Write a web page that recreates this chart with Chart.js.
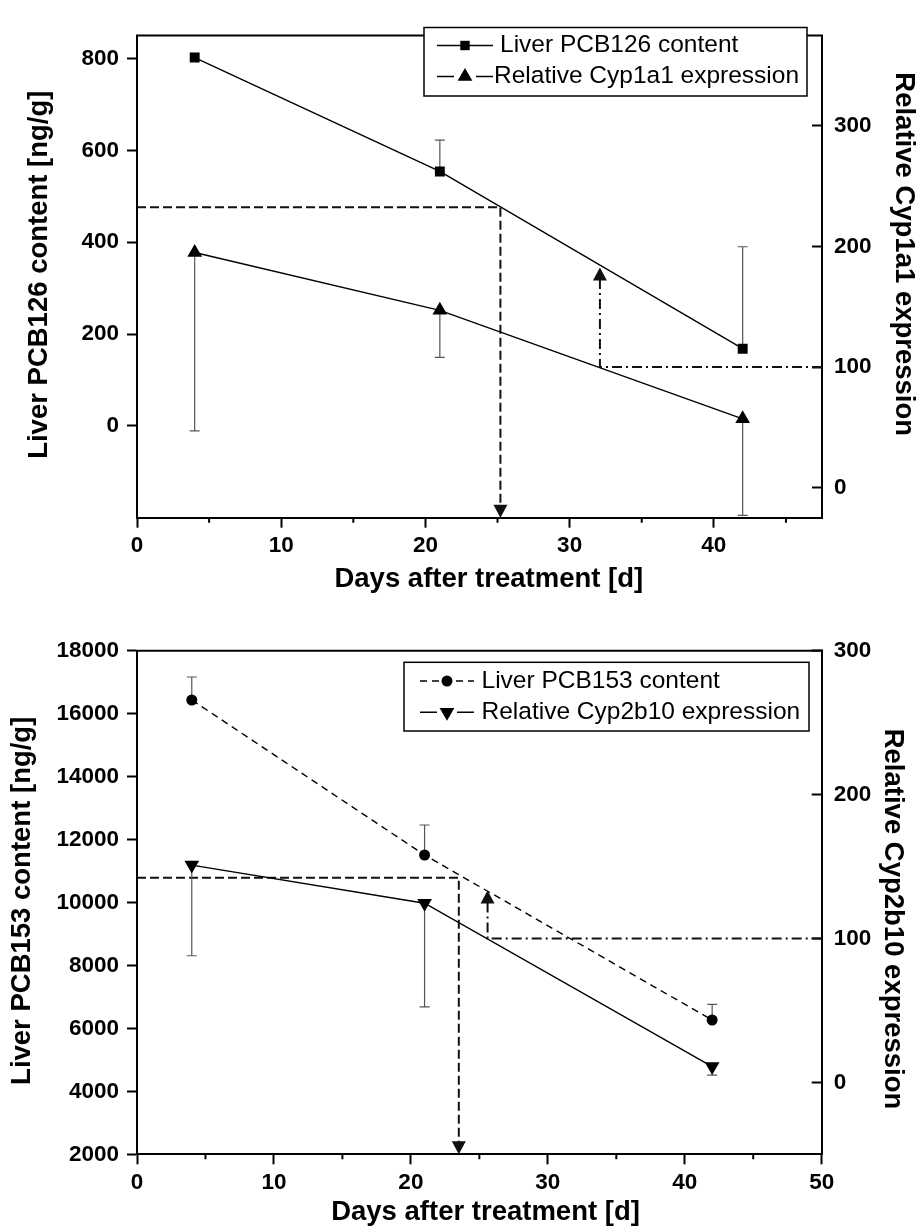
<!DOCTYPE html>
<html>
<head>
<meta charset="utf-8">
<script src="https://cdn.jsdelivr.net/npm/chart.js@4.4.1/dist/chart.umd.min.js"></script>
<style>
  html, body { margin: 0; padding: 0; background: #fff; }
  #wrap { position: relative; width: 922px; height: 1227px; }
  #topPanel { position: absolute; left: 0; top: 0; }
  #bottomPanel { position: absolute; left: 0; top: 610px; }
</style>
</head>
<body>
<div id="wrap">
  <canvas id="topPanel" width="922" height="610"></canvas>
  <canvas id="bottomPanel" width="922" height="617"></canvas>
</div>
<script>
// ---- sampling days ----
const days = [4, 21, 42];

// ---- upper panel: PCB126 content and Cyp1a1 expression ----
const pcb126Content = [802, 554, 168];       // ng/g
const pcb126Sd = [0, 68, 222];               // shown upward
const cyp1a1Expression = [195, 147, 57];     // relative, %
const cyp1a1Sd = [148, 39, 80];              // shown downward
const pcb126Ticks = [0, 200, 400, 600, 800];
const cyp1a1Ticks = [0, 100, 200, 300];
const dayTicksUpper = [0, 10, 20, 30, 40];

// half-content reading (day, ng/g) and 100 % expression crossing (day, %, ng/g at arrow tip)
const pcb126Half = [25.2, 476];
const cyp1a1Cross = [32.1, 100, 345];

// ---- lower panel: PCB153 content and Cyp2b10 expression ----
const pcb153Content = [16434, 11509, 6267];  // ng/g
const pcb153Sd = [730, 953, 499];            // shown upward
const cyp2b10Expression = [151, 124.5, 11];  // relative, %
const cyp2b10Sd = [63, 72, 6];               // shown downward
const pcb153Ticks = [2000, 4000, 6000, 8000, 10000, 12000, 14000, 16000, 18000];
const cyp2b10Ticks = [0, 100, 200, 300];
const dayTicksLower = [0, 10, 20, 30, 40, 50];

const pcb153Half = [23.5, 10790];
const cyp2b10Cross = [25.6, 100, 10380];

const minorDayTicks = [5, 15, 25, 35, 45];

// ---- axis titles ----
const dayTitle = 'Days after treatment [d]';
const upperTitles = ['Liver PCB126 content [ng/g]', 'Relative Cyp1a1 expression'];
const lowerTitles = ['Liver PCB153 content [ng/g]', 'Relative Cyp2b10 expression'];

// ---- styling ----
const FONT = '"Liberation Sans", Arial, Helvetica, sans-serif';
const tickFont = { family: FONT, size: 22.5, weight: 'bold' };
const TITLE_FONT = 'bold 27.5px ' + FONT;
const INK = '#000';

function pairs(xs, ys) { return xs.map((x, i) => ({ x: x, y: ys[i] })); }
function fixedTicks(list) { return scale => { scale.ticks = list.map(v => ({ value: v })); }; }
function asText(v) { return String(v); }

function arrowHead(ctx, x, y, dir) {
  // (x, y) is the tip; dir = 1 points down, -1 points up
  const w = 14, h = 13;
  ctx.beginPath();
  ctx.moveTo(x, y);
  ctx.lineTo(x - w / 2, y - dir * h);
  ctx.lineTo(x + w / 2, y - dir * h);
  ctx.closePath();
  ctx.fill();
}

function resolve(scale, v) {
  if (v === 'min') return scale.getPixelForValue(scale.min);
  if (v === 'max') return scale.getPixelForValue(scale.max);
  return scale.getPixelForValue(v);
}

// frame, minor ticks, guide lines, error bars, axis titles and the legend box
const panelDecor = {
  id: 'panelDecor',
  beforeDatasetsDraw(chart, args, opts) {
    const ctx = chart.ctx, area = chart.chartArea, xs = chart.scales.x;
    ctx.save();
    ctx.strokeStyle = INK;
    ctx.lineWidth = 2;
    ctx.beginPath();
    ctx.moveTo(area.left - 1, area.top);
    ctx.lineTo(area.right + 1, area.top);
    ctx.stroke();

    ctx.beginPath();
    opts.minorTicks.forEach(v => {
      const px = xs.getPixelForValue(v);
      ctx.moveTo(px, area.bottom);
      ctx.lineTo(px, area.bottom + 5);
    });
    ctx.stroke();

    // guide lines with arrow heads
    opts.guides.forEach(g => {
      const pts = g.points.map(p => [resolve(xs, p[0]), resolve(chart.scales[p[2]], p[1])]);
      const last = pts[pts.length - 1], prev = pts[pts.length - 2];
      const dir = last[1] > prev[1] ? 1 : -1;
      ctx.setLineDash(g.dash);
      ctx.lineWidth = 2;
      ctx.strokeStyle = '#111';
      ctx.beginPath();
      pts.forEach((p, i) => {
        const y = (i === pts.length - 1) ? p[1] - dir * 12 : p[1];
        if (i === 0) ctx.moveTo(p[0], y); else ctx.lineTo(p[0], y);
      });
      ctx.stroke();
      ctx.setLineDash([]);
      ctx.fillStyle = '#111';
      arrowHead(ctx, last[0], last[1], dir);
    });

    // one-sided error bars
    chart.data.datasets.forEach((ds, i) => {
      const meta = chart.getDatasetMeta(i);
      const ys = chart.scales[ds.yAxisID];
      ctx.strokeStyle = '#555';
      ctx.lineWidth = 1.2;
      ds.data.forEach((p, j) => {
        const sd = ds.sd[j];
        if (!sd) return;
        const x = meta.data[j].x;
        const y0 = ys.getPixelForValue(p.y);
        const y1 = ys.getPixelForValue(p.y + ds.sdDir * sd);
        ctx.beginPath();
        ctx.moveTo(x, y0); ctx.lineTo(x, y1);
        ctx.moveTo(x - 5, y1); ctx.lineTo(x + 5, y1);
        ctx.stroke();
      });
    });
    ctx.restore();
  },
  afterDraw(chart, args, opts) {
    const ctx = chart.ctx;
    ctx.save();
    // axis titles
    ctx.font = TITLE_FONT;
    ctx.fillStyle = INK;
    ctx.textAlign = 'center';
    ctx.textBaseline = 'middle';
    opts.titles.forEach(t => {
      ctx.save();
      ctx.translate(t.x, t.y);
      ctx.rotate(t.rot * Math.PI / 180);
      ctx.fillText(t.text, 0, 0);
      ctx.restore();
    });

    // legend
    const L = opts.legend;
    ctx.textAlign = 'left';
    ctx.fillStyle = '#fff';
    ctx.fillRect(L.left, L.top, L.width, L.height);
    ctx.strokeStyle = INK;
    ctx.lineWidth = 1.5;
    ctx.strokeRect(L.left, L.top, L.width, L.height);
    ctx.font = L.fontSize + 'px ' + FONT;
    chart.data.datasets.forEach((ds, i) => {
      const row = L.rows[i];
      const mid = (L.sampleX0 + L.sampleX1) / 2;
      ctx.strokeStyle = INK;
      ctx.lineWidth = ds.borderWidth;
      ctx.setLineDash(ds.borderDash || []);
      ctx.beginPath();
      if (row.gap) {
        ctx.moveTo(L.sampleX0, row.y); ctx.lineTo(mid - row.gap, row.y);
        ctx.moveTo(mid + row.gap, row.y); ctx.lineTo(L.sampleX1, row.y);
      } else {
        ctx.moveTo(L.sampleX0, row.y); ctx.lineTo(L.sampleX1, row.y);
      }
      ctx.stroke();
      ctx.setLineDash([]);
      ctx.fillStyle = INK;
      Chart.helpers.drawPoint(ctx, {
        pointStyle: ds.pointStyle, rotation: ds.pointRotation || 0,
        radius: ds.pointRadius * row.markerScale, borderWidth: 0
      }, mid, row.y);
      ctx.fillText(ds.label, row.textX, row.y);
    });
    ctx.restore();
  }
};

function axisY(position, min, max, list, width, labelPad, tickLen) {
  return {
    type: 'linear', position: position, min: min, max: max,
    afterBuildTicks: fixedTicks(list),
    afterFit: s => { s.width = width; },
    grid: { display: true, drawOnChartArea: false, drawTicks: true, tickLength: tickLen, tickWidth: 2, tickColor: INK },
    border: { display: true, color: INK, width: 2 },
    ticks: { font: tickFont, color: INK, padding: labelPad, callback: asText },
    title: { display: false }
  };
}

function axisX(max, list, height) {
  return {
    type: 'linear', position: 'bottom', min: 0, max: max,
    afterBuildTicks: fixedTicks(list),
    afterFit: s => { s.height = height; },
    grid: { display: true, drawOnChartArea: false, drawTicks: true, tickLength: 10, tickWidth: 2, tickColor: INK },
    border: { display: true, color: INK, width: 2 },
    ticks: { font: tickFont, color: INK, padding: 5, maxRotation: 0, autoSkip: false, callback: asText },
    title: { display: false }
  };
}

function series(label, axis, values, sd, sdDir, style, extra) {
  return Object.assign({
    label: label, yAxisID: axis, data: pairs(days, values),
    borderColor: INK, borderWidth: 1.4, backgroundColor: INK,
    pointBackgroundColor: INK, pointBorderWidth: 0, pointHoverRadius: 0,
    pointStyle: style, tension: 0, sd: sd, sdDir: sdDir
  }, extra);
}

Chart.defaults.font.family = FONT;

// upper panel
new Chart(document.getElementById('topPanel'), {
  type: 'line',
  data: {
    datasets: [
      series('Liver PCB126 content', 'yL', pcb126Content, pcb126Sd, 1, 'rect', { pointRadius: 7 }),
      series('Relative Cyp1a1 expression', 'yR', cyp1a1Expression, cyp1a1Sd, -1, 'triangle', { pointRadius: 8.5 })
    ]
  },
  options: {
    responsive: false, animation: false, events: [],
    layout: { padding: { top: 13.5, left: 0, right: 0, bottom: 0 } },
    scales: {
      x: axisX(47.5, dayTicksUpper, 92.3),
      yL: axisY('left', -200, 850, pcb126Ticks, 137, 8, 10),
      yR: axisY('right', -25, 375, cyp1a1Ticks, 100, 22, -10)
    },
    plugins: {
      legend: { display: false }, tooltip: { enabled: false },
      panelDecor: {
        minorTicks: minorDayTicks,
        titles: [
          { text: dayTitle, x: 488.8, y: 579, rot: 0 },
          { text: upperTitles[0], x: 39.5, y: 274.7, rot: -90 },
          { text: upperTitles[1], x: 904, y: 254.2, rot: 90 }
        ],
        guides: [
          { dash: [9, 4], points: [['min', pcb126Half[1], 'yL'], [pcb126Half[0], pcb126Half[1], 'yL'], [pcb126Half[0], 'min', 'yL']] },
          { dash: [10, 4, 2, 4], points: [['max', cyp1a1Cross[1], 'yR'], [cyp1a1Cross[0], cyp1a1Cross[1], 'yR'], [cyp1a1Cross[0], cyp1a1Cross[2], 'yL']] }
        ],
        legend: {
          left: 424, top: 27.5, width: 383, height: 68.5, fontSize: 24.5,
          sampleX0: 437, sampleX1: 493,
          rows: [{ y: 45.5, textX: 500, gap: 0, markerScale: 0.95 },
                 { y: 76.5, textX: 494, gap: 11, markerScale: 1 }]
        }
      }
    }
  },
  plugins: [panelDecor]
});

// lower panel
new Chart(document.getElementById('bottomPanel'), {
  type: 'line',
  data: {
    datasets: [
      series('Liver PCB153 content', 'yL', pcb153Content, pcb153Sd, 1, 'circle', { pointRadius: 5.5, borderDash: [7, 5] }),
      series('Relative Cyp2b10 expression', 'yR', cyp2b10Expression, cyp2b10Sd, -1, 'triangle', { pointRadius: 8.5, pointRotation: 180 })
    ]
  },
  options: {
    responsive: false, animation: false, events: [],
    layout: { padding: { top: 40.7, left: 0, right: 0, bottom: 0 } },
    scales: {
      x: axisX(50, dayTicksLower, 72.7),
      yL: axisY('left', 2000, 18000, pcb153Ticks, 137, 8, 10),
      yR: axisY('right', -50, 300, cyp2b10Ticks, 100.3, 22, -10)
    },
    plugins: {
      legend: { display: false }, tooltip: { enabled: false },
      panelDecor: {
        minorTicks: minorDayTicks,
        titles: [
          { text: dayTitle, x: 485.5, y: 602, rot: 0 },
          { text: lowerTitles[0], x: 22.5, y: 290.8, rot: -90 },
          { text: lowerTitles[1], x: 893, y: 309, rot: 90 }
        ],
        guides: [
          { dash: [9, 4], points: [['min', pcb153Half[1], 'yL'], [pcb153Half[0], pcb153Half[1], 'yL'], [pcb153Half[0], 'min', 'yL']] },
          { dash: [10, 4, 2, 4], points: [['max', cyp2b10Cross[1], 'yR'], [cyp2b10Cross[0], cyp2b10Cross[1], 'yR'], [cyp2b10Cross[0], cyp2b10Cross[2], 'yL']] }
        ],
        legend: {
          left: 404, top: 52.3, width: 405, height: 68.7, fontSize: 24.5,
          sampleX0: 420, sampleX1: 474,
          rows: [{ y: 71, textX: 481.5, gap: 0, markerScale: 1 },
                 { y: 102.3, textX: 481.5, gap: 10, markerScale: 1 }]
        }
      }
    }
  },
  plugins: [panelDecor]
});
</script>
</body>
</html>
